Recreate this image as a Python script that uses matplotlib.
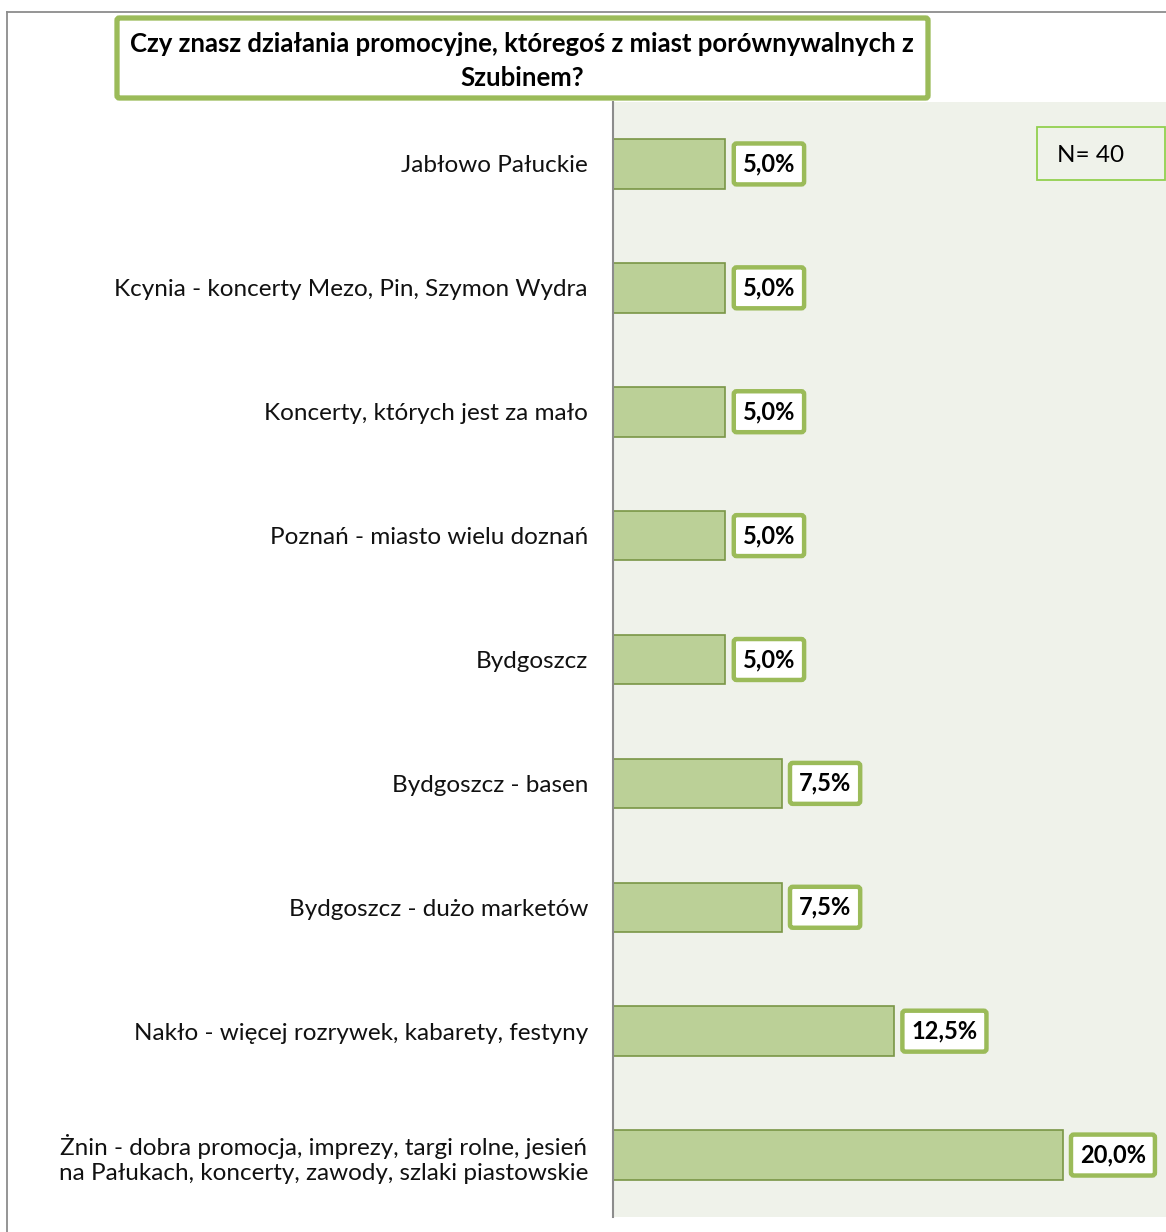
import matplotlib.pyplot as plt
import matplotlib.patches as mpatches
import numpy as np

plt.rcParams['font.family'] = ['Lato', 'DejaVu Sans']

categories = [
    'Jabłowo Pałuckie',
    'Kcynia - koncerty Mezo, Pin, Szymon Wydra',
    'Koncerty, których jest za mało',
    'Poznań - miasto wielu doznań',
    'Bydgoszcz',
    'Bydgoszcz - basen',
    'Bydgoszcz - dużo marketów',
    'Nakło - więcej rozrywek, kabarety, festyny',
    'Żnin - dobra promocja, imprezy, targi rolne, jesień\nna Pałukach, koncerty, zawody, szlaki piastowskie',
]
values = [5.0, 5.0, 5.0, 5.0, 5.0, 7.5, 7.5, 12.5, 20.0]
value_labels = ['5,0%', '5,0%', '5,0%', '5,0%', '5,0%', '7,5%', '7,5%', '12,5%', '20,0%']
title = 'Czy znasz działania promocyjne, któregoś z miast porównywalnych z\nSzubinem?'
n_label = 'N= 40'

W, H = 1166, 1232
fig = plt.figure(figsize=(W / 100, H / 100), dpi=100)

# plot area
ax = fig.add_axes([613 / W, 15 / H, 1 - 613 / W, (1217 - 102) / H])
ax.set_facecolor('#EFF2EA')
y = np.arange(len(categories))
ax.barh(y, values, height=0.40, color='#BBD097', edgecolor='#7A9646', linewidth=1.2)
ax.set_xlim(0, 24.6)
ax.set_ylim(len(categories) - 0.5, -0.5)
ax.set_xticks([])
ax.set_yticks(y)
ax.set_yticklabels(categories, fontsize=17.5, color='#111111', multialignment='center',
                   linespacing=1.25)
ax.tick_params(axis='y', length=0, pad=18)
for s in ['top', 'right', 'bottom']:
    ax.spines[s].set_visible(False)
ax.spines['left'].set_color('#8c8c8c')
ax.spines['left'].set_linewidth(1.5)

for yi, v, lab in zip(y, values, value_labels):
    ax.annotate(lab, (v, yi), xytext=(12.5, 0), textcoords='offset points',
                ha='left', va='center', fontsize=17, fontweight='bold',
                bbox=dict(boxstyle='round,pad=0.38,rounding_size=0.12',
                          fc='white', ec='#9BBB59', lw=3.2))

# title box
tb = mpatches.FancyBboxPatch((117 / W, 1 - 98 / H), (928 - 117) / W, (98 - 18) / H,
                             boxstyle='round,pad=0,rounding_size=0.002',
                             transform=fig.transFigure, fc='white', ec='#9BBB59', lw=3.8)
fig.patches.append(tb)
fig.text(522 / W, 1 - 61 / H, title, ha='center', va='center', fontsize=18.5,
         fontweight='bold', linespacing=1.45)

# N box
nb = mpatches.Rectangle((1037 / W, 1 - 180 / H), (1165 - 1037) / W, (180 - 127) / H,
                        transform=fig.transFigure, fc='none', ec='#92D050', lw=1.3)
fig.patches.append(nb)
fig.text(1057 / W, 1 - 155 / H, n_label, ha='left', va='center', fontsize=17.5)

# outer frame (left and top edges visible)
fig.add_artist(plt.Line2D([7 / W, 7 / W], [0, 1 - 12 / H], transform=fig.transFigure,
                          color='#8c8c8c', lw=1.3))
fig.add_artist(plt.Line2D([7 / W, 1], [1 - 12 / H, 1 - 12 / H], transform=fig.transFigure,
                          color='#8c8c8c', lw=1.3))

fig.savefig('out.png', dpi=100)
